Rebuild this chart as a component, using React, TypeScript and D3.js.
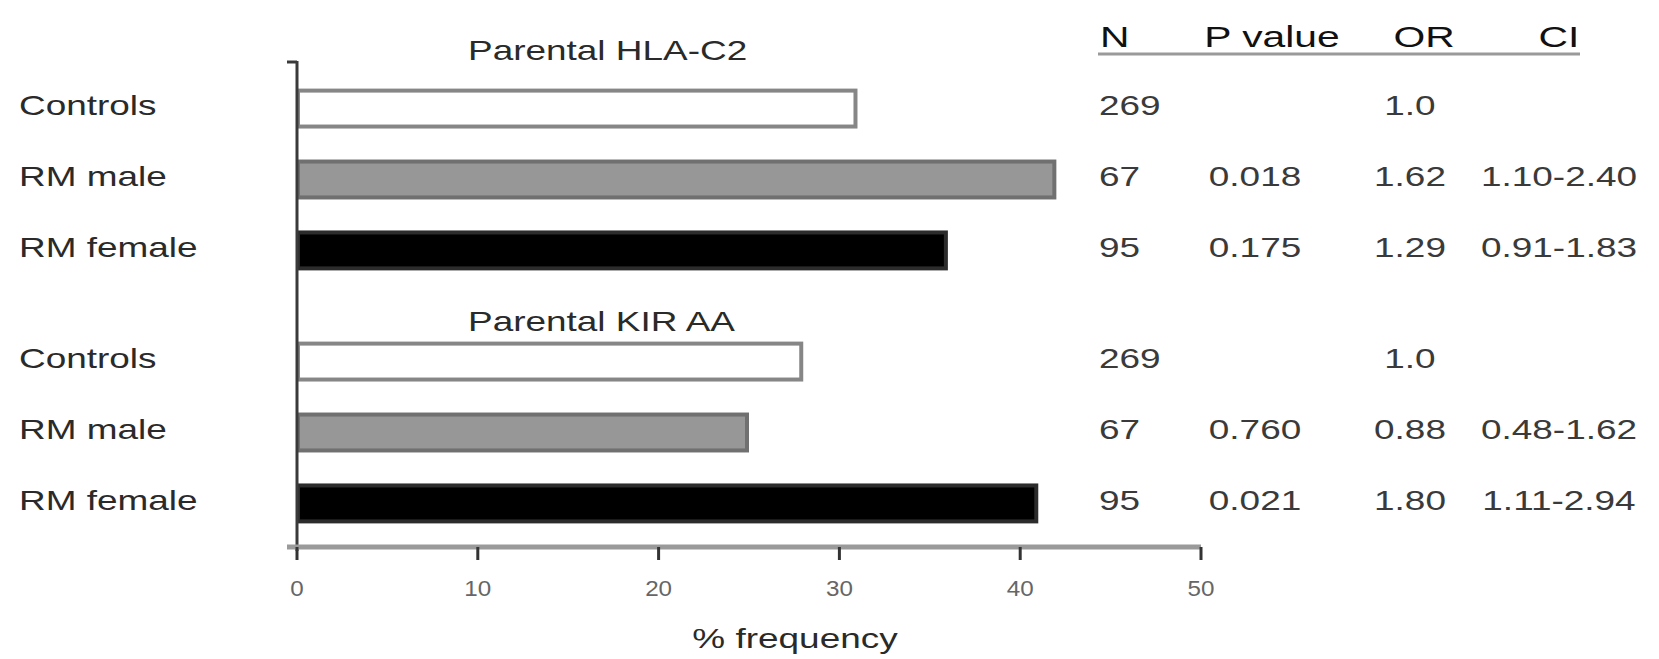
import React, { useEffect } from "react";
import * as d3 from "d3";

// Panel titles and the category rows of each panel
const groups = ["Parental HLA-C2", "Parental KIR AA"];
const categories = ["Controls", "RM male", "RM female"];

// % frequency for each category, per panel
const hlaFreq = [31, 42, 36];
const kirFreq = [28, 25, 41];

// Statistics table columns
const tableHeaders = ["N", "P value", "OR", "CI"];
const hlaN = ["269", "67", "95"];
const hlaP = ["", "0.018", "0.175"];
const hlaOR = ["1.0", "1.62", "1.29"];
const hlaCI = ["", "1.10-2.40", "0.91-1.83"];
const kirN = ["269", "67", "95"];
const kirP = ["", "0.760", "0.021"];
const kirOR = ["1.0", "0.88", "1.80"];
const kirCI = ["", "0.48-1.62", "1.11-2.94"];

// Axis
const xTicks = [0, 10, 20, 30, 40, 50];
const xLabel = "% frequency";

const W = 1659;
const H = 659;
const FONT = "'Liberation Sans', Arial, Helvetica, sans-serif";
const SX = 1.32; // horizontal stretch of the lettering

const barFill = ["#ffffff", "#979797", "#000000"];
const barStroke = ["#868686", "#707070", "#2c2c2c"];

type TProps = {
  x: number;
  y: number;
  size: number;
  anchor?: "start" | "middle" | "end";
  fill?: string;
  weight?: number | string;
  sx?: number;
  children: React.ReactNode;
};

function T({ x, y, size, anchor = "start", fill = "#2a2a2a", weight = 400, sx = SX, children }: TProps) {
  return (
    <text
      transform={`translate(${x},${y}) scale(${sx},1)`}
      fontSize={size}
      fontFamily={FONT}
      fontWeight={weight}
      textAnchor={anchor}
      dominantBaseline="central"
      fill={fill}
    >
      {children}
    </text>
  );
}

export default function App() {
  useEffect(() => {
    document.body.style.margin = "0";
    document.body.style.background = "#ffffff";
  }, []);

  const x = d3.scaleLinear().domain([0, 50]).range([297, 1201]);
  const axisY = 547;
  const axisTop = 61;

  const panels = [
    { title: groups[0], top: 73, titleY: 50, freq: hlaFreq, n: hlaN, p: hlaP, or: hlaOR, ci: hlaCI },
    { title: groups[1], top: 326, titleY: 321, freq: kirFreq, n: kirN, p: kirP, or: kirOR, ci: kirCI },
  ];

  const colN = 1099;
  const colP = 1255;
  const colOR = 1410;
  const colCI = 1559;

  return (
    <svg width={W} height={H} style={{ display: "block" }} xmlns="http://www.w3.org/2000/svg">
      <rect x={0} y={0} width={W} height={H} fill="#ffffff" />

      {panels.map((pn, gi) => {
        const y = d3
          .scaleBand<string>()
          .domain(categories)
          .range([pn.top, pn.top + 213])
          .paddingInner(0.437)
          .paddingOuter(0.22);
        const bw = y.bandwidth();
        return (
          <g key={gi}>
            <T x={468} y={pn.titleY} size={28}>
              {pn.title}
            </T>
            {categories.map((c, i) => {
              const y0 = y(c) as number;
              const cy = y0 + bw / 2;
              const x0 = x(0);
              const x1 = x(pn.freq[i]);
              return (
                <g key={c}>
                  <rect
                    x={x0 + 1}
                    y={y0 + 2}
                    width={Math.max(0, x1 - x0 - 3)}
                    height={bw - 4}
                    fill={barFill[i]}
                    stroke={barStroke[i]}
                    strokeWidth={4}
                  />
                  <T x={19} y={cy - 3} size={28}>
                    {c}
                  </T>
                  <T x={colN} y={cy - 3} size={28} fill="#3a3a3a">
                    {pn.n[i]}
                  </T>
                  {pn.p[i] && (
                    <T x={colP} y={cy - 3} size={28} anchor="middle" fill="#3a3a3a">
                      {pn.p[i]}
                    </T>
                  )}
                  <T x={colOR} y={cy - 3} size={28} anchor="middle" fill="#3a3a3a">
                    {pn.or[i]}
                  </T>
                  {pn.ci[i] && (
                    <T x={colCI} y={cy - 3} size={28} anchor="middle" fill="#3a3a3a">
                      {pn.ci[i]}
                    </T>
                  )}
                </g>
              );
            })}
          </g>
        );
      })}

      {/* table header */}
      <T x={1100} y={37} size={30} fill="#111" sx={1.36}>
        {tableHeaders[0]}
      </T>
      <T x={1272} y={37} size={30} anchor="middle" fill="#111" sx={1.36}>
        {tableHeaders[1]}
      </T>
      <T x={1424} y={37} size={30} anchor="middle" fill="#111" sx={1.36}>
        {tableHeaders[2]}
      </T>
      <T x={1559} y={37} size={30} anchor="middle" fill="#111" sx={1.36}>
        {tableHeaders[3]}
      </T>
      <line x1={1098} x2={1580} y1={54} y2={54} stroke="#9a9a9a" strokeWidth={3} />

      {/* y axis */}
      <line x1={x(0)} x2={x(0)} y1={axisTop} y2={axisY + 4} stroke="#3a3a3a" strokeWidth={3} />
      <line x1={x(0) - 10} x2={x(0)} y1={axisTop + 1} y2={axisTop + 1} stroke="#3a3a3a" strokeWidth={3} />

      {/* x axis */}
      <line x1={x(0) - 10} x2={x(50)} y1={axisY} y2={axisY} stroke="#9a9a9a" strokeWidth={5} />
      {xTicks.map((t) => (
        <g key={t}>
          <line x1={x(t)} x2={x(t)} y1={axisY} y2={axisY + 13} stroke="#333" strokeWidth={3} />
          <T x={x(t)} y={588} size={22} anchor="middle" fill="#666" sx={1.1}>
            {t}
          </T>
        </g>
      ))}
      <T x={795} y={638} size={28} anchor="middle">
        {xLabel}
      </T>
    </svg>
  );
}
